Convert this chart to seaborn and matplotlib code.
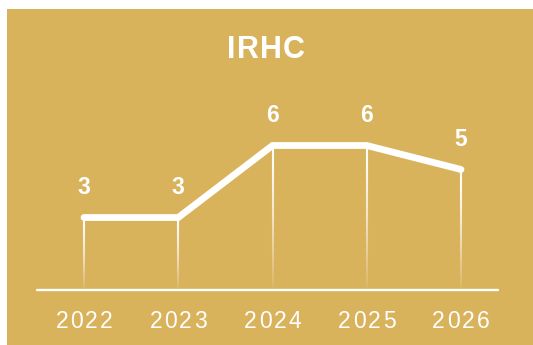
import numpy as np
import pandas as pd
import matplotlib
matplotlib.use("Agg")
import matplotlib.pyplot as plt
from matplotlib.patches import Rectangle
from matplotlib.collections import LineCollection
import seaborn as sns

years = ["2022", "2023", "2024", "2025", "2026"]
values = [3, 3, 6, 6, 5]
title = "IRHC"

GOLD = "#D9B25C"
WHITE = "#FFFFFF"

sns.set_style("white")
plt.rcParams["font.family"] = ["Liberation Sans", "DejaVu Sans"]

W, H = 533, 345
fig = plt.figure(figsize=(W / 100, H / 100), dpi=100)
fig.patch.set_facecolor(WHITE)
renderer = fig.canvas.get_renderer()


def spaced_text(cx_px, base_px, s, tracking_px, **kw):
    """Draw text centred on cx_px with extra spacing between characters."""
    widths = []
    for ch in s:
        t = fig.text(0, 0, ch, **kw)
        widths.append(t.get_window_extent(renderer).width)
        t.remove()
    total = sum(widths) + tracking_px * (len(s) - 1)
    xpos = cx_px - total / 2
    for ch, w in zip(s, widths):
        fig.text(xpos / W, (H - base_px) / H, ch, ha="left", va="baseline", **kw)
        xpos += w + tracking_px


# gold card behind the chart
fig.patches.append(Rectangle((7 / W, 0), (W - 7) / W, (H - 9) / H,
                             transform=fig.transFigure, facecolor=GOLD,
                             edgecolor="none", zorder=-10))

# plotting area: baseline at y=0, one unit = 24 px
left_px, right_px, base_px, top_px = 37, 498, 289.5, 100
ax = fig.add_axes([left_px / W, (H - base_px) / H,
                   (right_px - left_px) / W, (base_px - top_px) / H])
ax.set_facecolor("none")
ax.patch.set_alpha(0)
ax.set_zorder(5)
x = np.arange(len(years))
unit = 94.25
ax.set_xlim(-(84 - left_px) / unit, 4 + (right_px - 461) / unit)
ax.set_ylim(0, (base_px - top_px) / 24.0)

df = pd.DataFrame({"pos": x, "value": values})

# fading drop lines from each point to the baseline
n = 80
for xi, v in zip(x, values):
    ys = np.linspace(v, 0, n + 1)
    segs = [[(xi, ys[i]), (xi, ys[i + 1])] for i in range(n)]
    t = np.linspace(0, 1, n)
    alphas = 1.0 - 0.95 * t ** 1.4
    cols = [(1, 1, 1, a) for a in alphas]
    ax.add_collection(LineCollection(segs, colors=cols, linewidths=1.5,
                                     capstyle="butt", zorder=2))

sns.lineplot(data=df, x="pos", y="value", ax=ax, color=WHITE, linewidth=4.9,
             solid_capstyle="round", solid_joinstyle="miter", zorder=3)

# baseline
ax.axhline(0, color=WHITE, linewidth=1.7, zorder=4, clip_on=False)

# value labels
for xi, v in zip(x, values):
    ax.annotate(str(v), (xi, v), xytext=(0, 16.6), textcoords="offset points",
                ha="center", va="baseline", color=WHITE, fontsize=16.5,
                fontweight="bold")

ax.set_xticks([])
ax.set_yticks([])
ax.set_xlabel("")
ax.set_ylabel("")
for s in ax.spines.values():
    s.set_visible(False)
legend = ax.get_legend()
if legend:
    legend.remove()

# year labels, letter-spaced
for xi, yr in zip(x, years):
    cx = ax.transData.transform((xi, 0))[0]
    spaced_text(cx, 328, yr, 2.2, color=WHITE, fontsize=16.5)

spaced_text(266, 58.3, title, 1.0, color=WHITE, fontsize=22,
            fontweight="bold")

fig.savefig("out.png", dpi=100, facecolor=fig.get_facecolor())
